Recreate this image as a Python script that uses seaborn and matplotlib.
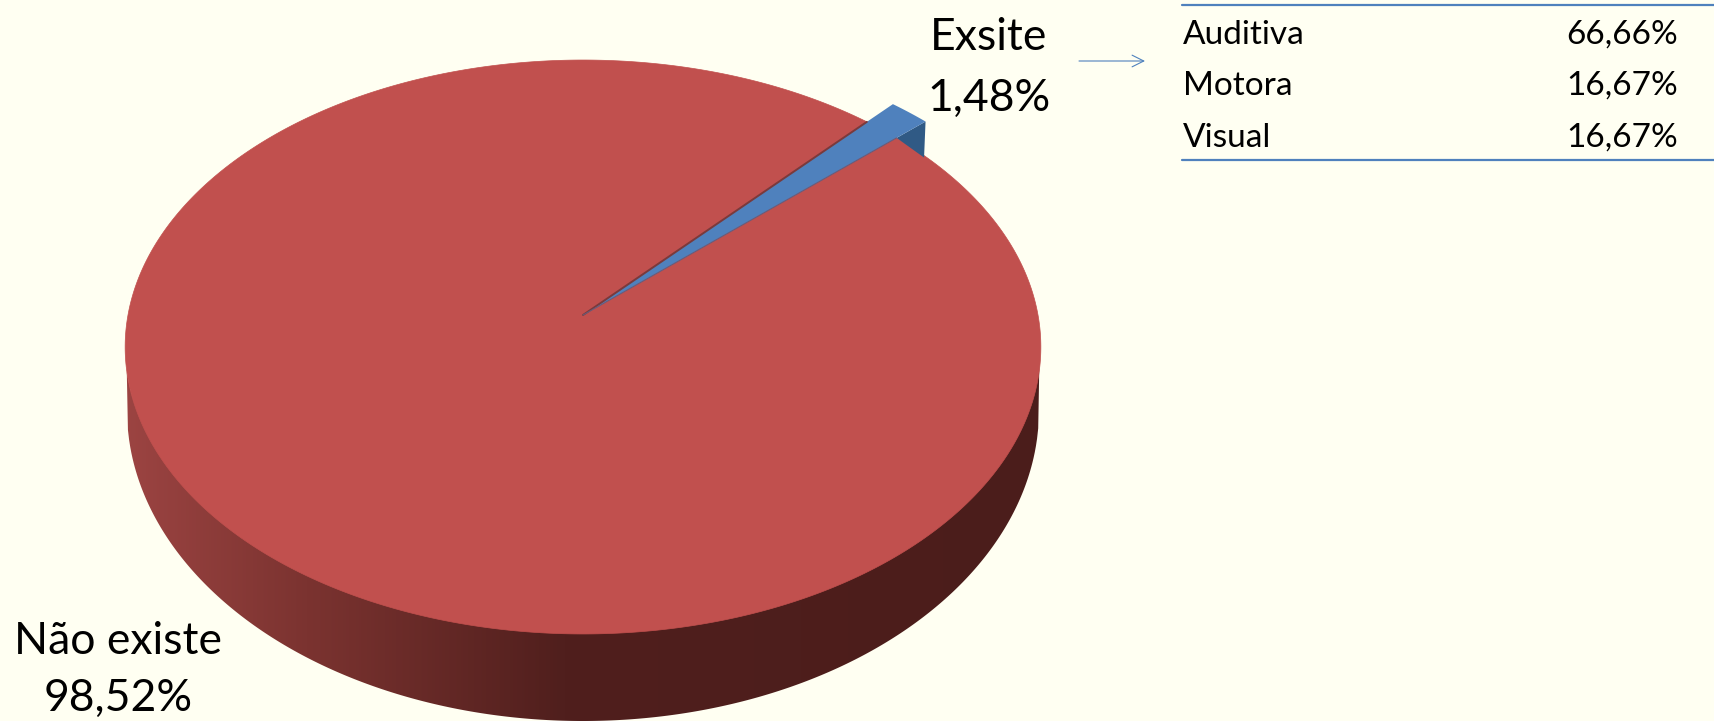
import numpy as np
import matplotlib
matplotlib.use("Agg")
import matplotlib.pyplot as plt
from matplotlib.colors import LinearSegmentedColormap
from matplotlib.patches import Polygon
import seaborn as sns

pie_labels = ["Não existe", "Exsite"]
pie_values = [98.52, 1.48]
pie_value_text = ["98,52%", "1,48%"]
table_names = ["Auditiva", "Motora", "Visual"]
table_values = ["66,66%", "16,67%", "16,67%"]

BG = "#FFFFF2"
RED = "#C1504E"
BLUE = "#4F81BD"
DARK_BLUE = "#305A85"
W, H = 1714, 721

sns.set_theme(style="white")
plt.rcParams["font.family"] = ["Lato", "DejaVu Sans"]

fig = plt.figure(figsize=(W / 100, H / 100), dpi=100, facecolor=BG)
ax = fig.add_axes([0, 0, 1, 1])
ax.set_xlim(0, W)
ax.set_ylim(H, 0)
ax.axis("off")

# perspective disc -> pixel map
CX, CY = 583.0, 315.0
C, KY, KX = 0.1115, 283.4, 455.0


def project(theta_deg, r=1.0):
    t = np.radians(theta_deg)
    u, v = r * np.cos(t), -r * np.sin(t)
    d = 1 - C * v
    return CX + KX * u / d, CY + KY * v / d


# ellipses outlining the top face and the lower rim
TOP = (582.5, 347.0, 458.0, 287.0)
LOW = (583.0, 410.0, 456.0, 311.0)


def front_y(x, e):
    cx, cy, a, b = e
    s = np.clip(1 - ((x - cx) / a) ** 2, 0, None)
    return cy + b * np.sqrt(s)


# side wall with horizontal gradient, clipped to the visible rim
xs = np.linspace(TOP[0] - TOP[2], TOP[0] + TOP[2], 800)
y_up = front_y(xs, TOP) - 4
inside = np.abs(xs - LOW[0]) < LOW[2]
y_lo = np.where(inside, np.maximum(front_y(xs, LOW), y_up), y_up)
rim = Polygon(np.c_[np.r_[xs, xs[::-1]], np.r_[y_up, y_lo[::-1]]], closed=True,
              transform=ax.transData, fc="none", ec="none")
ax.add_patch(rim)
left_stops = sns.blend_palette(["#9C4442", "#7B3330", "#501F1D"], n_colors=3)
cmap = LinearSegmentedColormap.from_list(
    "rim",
    [(0.0, left_stops[0]), (0.2, left_stops[1]), (0.48, left_stops[2]), (1.0, "#4B1D1B")],
)
grad = np.linspace(0, 1, 512).reshape(1, -1)
im = ax.imshow(grad, cmap=cmap, aspect="auto", zorder=1,
               extent=(xs[0], xs[-1], H, 0), interpolation="bilinear")
im.set_clip_path(rim)
ax.set_xlim(0, W)
ax.set_ylim(H, 0)

# faces from the values
total = sum(pie_values)
blue_start = 42.2
blue_sweep = pie_values[1] / total * 360
blue_end = blue_start + blue_sweep
red_sweep = pie_values[0] / total * 360

th = np.linspace(blue_end, blue_end + red_sweep, 1200)
rx, ry = project(th)
ax.fill(np.r_[CX, rx], np.r_[CY, ry], color=RED, lw=0.5, zorder=2)

# blue slice
R_BLUE = 1.10
TIP_DEPTH = 36
tip_th = np.linspace(blue_start, blue_end, 12)
bx, by = project(tip_th, R_BLUE)
px, py = project(blue_start, R_BLUE)
qx, qy = project(blue_start, 1.0)
ax.fill([px, px - 1.5, qx], [py, py + TIP_DEPTH, qy], color=DARK_BLUE, lw=0, zorder=2)
ax.fill(np.r_[CX, bx], np.r_[CY, by], color=BLUE, lw=0, zorder=3)
ux, uy = project(blue_end, 1.0)
ax.plot([CX, ux], [CY, uy], color="#7A3A3C", lw=1.4, zorder=4)
ax.plot([CX, qx], [CY, qy], color="#6B5A78", lw=0.8, zorder=4)

# labels
LABEL_FS = 32
ax.text(989, 38, pie_labels[1], fontsize=LABEL_FS, ha="center", va="center", color="black", zorder=5)
ax.text(989, 98, pie_value_text[1], fontsize=LABEL_FS, ha="center", va="center", color="black", zorder=5)
ax.text(118, 642, pie_labels[0], fontsize=LABEL_FS, ha="center", va="center", color="black", zorder=5)
ax.text(118, 698, pie_value_text[0], fontsize=LABEL_FS, ha="center", va="center", color="black", zorder=5)

# arrow
ax.annotate("", xy=(1145, 61), xytext=(1079, 61),
            arrowprops=dict(arrowstyle="->,head_length=0.7,head_width=0.35", color=BLUE, lw=0.8,
                            shrinkA=0, shrinkB=0))

# small table
ax.plot([1182, W], [4.5, 4.5], color=BLUE, lw=1.6)
ax.plot([1182, W], [159.5, 159.5], color=BLUE, lw=1.6)
row_y = [35, 86, 138]
for name, val, y in zip(table_names, table_values, row_y):
    ax.text(1183, y, name, fontsize=24, ha="left", va="center", color="black")
    ax.text(1678, y, val, fontsize=24, ha="right", va="center", color="black")

fig.savefig("out.png", dpi=100, facecolor=BG)
